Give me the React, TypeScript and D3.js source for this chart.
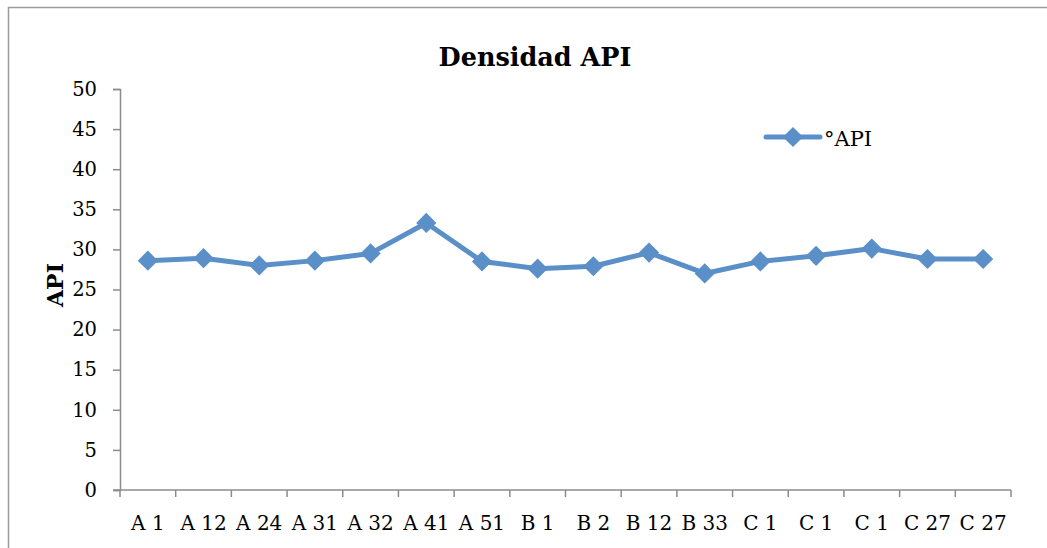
import React, { useEffect, useRef } from "react";
import * as d3 from "d3";

const categories = [
  "A 1", "A 12", "A 24", "A 31", "A 32", "A 41", "A 51", "B 1",
  "B 2", "B 12", "B 33", "C 1", "C 1", "C 1", "C 27", "C 27",
];
const apiValues = [
  28.6, 28.9, 28.0, 28.6, 29.5, 33.3, 28.5, 27.6,
  27.9, 29.6, 27.0, 28.5, 29.2, 30.1, 28.8, 28.8,
];
const yTicks = [0, 5, 10, 15, 20, 25, 30, 35, 40, 45, 50];
const seriesName = "°API";

const App = () => {
  const ref = useRef<SVGSVGElement>(null);

  useEffect(() => {
    const svg = d3.select(ref.current);
    svg.selectAll("*").remove();

    const font = "DejaVu Serif, serif";
    const color = "#5b8fc8";
    const axisColor = "#8c8c8c";
    const left = 120, right = 1011, top = 89, bottom = 490;

    // outer chart frame (runs off the picture on the right and bottom)
    svg.append("rect")
      .attr("x", 8.5).attr("y", 7.5)
      .attr("width", 1100).attr("height", 600)
      .attr("fill", "white")
      .attr("stroke", "#9a9a9a").attr("stroke-width", 1.5);

    const idx = categories.map((_, i) => String(i));
    const x = d3.scaleBand().domain(idx).range([left, right]);
    const y = d3.scaleLinear().domain([0, 50]).range([bottom, top]);

    // y axis
    const yAxis = svg.append("g")
      .attr("transform", `translate(${left},0)`)
      .call(d3.axisLeft(y).tickValues(yTicks).tickSize(7).tickPadding(16));
    yAxis.select(".domain").attr("stroke", axisColor).attr("stroke-width", 1.5);
    yAxis.selectAll(".tick line").attr("stroke", axisColor).attr("stroke-width", 1.5);
    yAxis.selectAll("text")
      .attr("font-family", font).attr("font-size", 19.5).attr("fill", "#000");

    // x axis with ticks at band edges
    const xg = svg.append("g").attr("transform", `translate(0,${bottom})`);
    xg.append("line")
      .attr("x1", left - 7).attr("x2", right)
      .attr("stroke", axisColor).attr("stroke-width", 1.5);
    const edges = d3.range(categories.length + 1).map((i) => left + i * x.bandwidth());
    xg.selectAll("line.tk").data(edges).enter().append("line")
      .attr("class", "tk")
      .attr("x1", (d) => d).attr("x2", (d) => d)
      .attr("y1", 0).attr("y2", 7)
      .attr("stroke", axisColor).attr("stroke-width", 1.5);
    xg.selectAll("text").data(categories).enter().append("text")
      .attr("x", (_, i) => x(String(i))! + x.bandwidth() / 2)
      .attr("y", 40)
      .attr("text-anchor", "middle")
      .attr("font-family", font).attr("font-size", 20)
      .text((d) => d);

    // title
    svg.append("text")
      .attr("x", 535).attr("y", 66)
      .attr("text-anchor", "middle")
      .attr("font-family", font).attr("font-size", 25.5).attr("font-weight", "bold")
      .text("Densidad API");

    // y label
    svg.append("text")
      .attr("transform", "translate(63,285) rotate(-90)")
      .attr("text-anchor", "middle")
      .attr("font-family", font).attr("font-size", 22).attr("font-weight", "bold")
      .text("API");

    // line
    const cx = (i: number) => x(String(i))! + x.bandwidth() / 2;
    const line = d3.line<number>().x((_, i) => cx(i)).y((d) => y(d));
    svg.append("path")
      .datum(apiValues)
      .attr("d", line)
      .attr("fill", "none")
      .attr("stroke", color).attr("stroke-width", 5)
      .attr("stroke-linejoin", "round");

    const diamond = d3.symbol().type(d3.symbolDiamond2).size(260);
    svg.selectAll("path.pt").data(apiValues).enter().append("path")
      .attr("class", "pt")
      .attr("d", diamond)
      .attr("transform", (d, i) => `translate(${cx(i)},${y(d)})`)
      .attr("fill", color);

    // legend
    const lg = svg.append("g").attr("transform", "translate(766,137)");
    lg.append("line")
      .attr("x1", 0).attr("x2", 54)
      .attr("stroke", color).attr("stroke-width", 5).attr("stroke-linecap", "round");
    lg.append("path").attr("d", diamond).attr("transform", "translate(27,0)").attr("fill", color);
    lg.append("text")
      .attr("x", 58).attr("y", 9)
      .attr("font-family", font).attr("font-size", 21)
      .text(seriesName);
  }, []);

  return (
    <svg
      ref={ref}
      width={1047}
      height={548}
      style={{ position: "absolute", left: 0, top: 0 }}
    />
  );
};

export default App;
